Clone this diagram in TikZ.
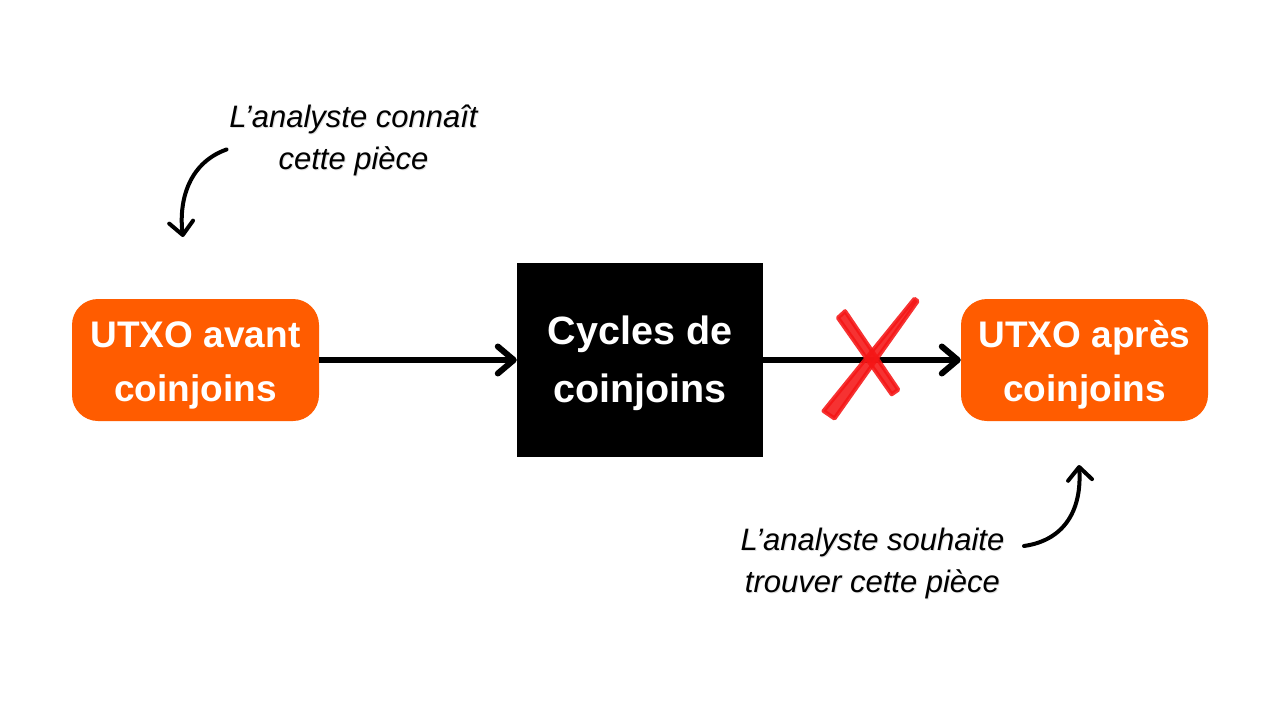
\documentclass[tikz,border=0pt]{standalone}
\usepackage{fontspec}
\setmainfont{Liberation Sans}
\usetikzlibrary{arrows.meta}
\definecolor{orng}{HTML}{FF5C00}
\definecolor{xred}{HTML}{F51616}
\newcommand\boxlines[3]{\begin{tabular}{@{}c@{}}\rule{0pt}{#1}#2\\#3\end{tabular}}
\begin{document}
\begin{tikzpicture}[x=1pt,y=-1pt,
 obox/.style={fill=orng, rounded corners=26pt, minimum width=247pt, minimum height=122pt, text=white, font=\bfseries\fontsize{37}{54}\selectfont, inner sep=0pt},
 bbox/.style={fill=black, minimum width=246pt, minimum height=194pt, text=white, font=\bfseries\fontsize{39.5}{58}\selectfont, inner sep=0pt},
 flow/.style={line width=6pt, -{Straight Barb[length=16pt,width=27pt,round]}},
 note/.style={font=\itshape\fontsize{31}{42}\selectfont, align=center, inner sep=0pt},
 noteshadow/.style={note, text=black, opacity=0.12},
 curvy/.style={line width=4pt, line cap=round, -{Straight Barb[length=13pt,width=24pt,round]}},
 xstroke/.style={fill=xred, draw=xred, line width=4pt, line join=round, opacity=0.88}]

\useasboundingbox[fill=white] (0,0) rectangle (1280,720);

\node[obox] (utxoA) at (195.5,360) {\boxlines{44.2pt}{UTXO avant}{coinjoins}};
\node[bbox] (cyc) at (640,360) {\boxlines{43.9pt}{Cycles de}{coinjoins}};
\node[obox] (utxoB) at (1084.5,360) {\boxlines{44.2pt}{UTXO après}{coinjoins}};

\draw[flow] (utxoA.east) -- (cyc.west);
\draw[flow] (cyc.east) -- (utxoB.west);

% red cross
\path[xstroke] (823.5,411) -- (914.4,298.8) -- (917.6,301.2) -- (834.5,418.5) -- cycle;
\path[xstroke] (837.9,317.8) -- (845.1,311.2) -- (898.3,389.7) -- (891.7,394.3) -- cycle;

% notes
\node[noteshadow] (n1s) at (354.5,141.5) {L’analyste connaît\\cette pièce};
\node[note] (n1) at (353.5,140.5) {L’analyste connaît\\cette pièce};
\node[noteshadow] (n2s) at (873.5,564.5) {L’analyste souhaite\\trouver cette pièce};
\node[note] (n2) at (872.5,563.5) {L’analyste souhaite\\trouver cette pièce};

\coordinate (c1s) at (226.5,149.5);
\coordinate (c1e) at (183,237);
\draw[curvy] (c1s) .. controls (186,164) and (179,205) .. (c1e);

\coordinate (c2s) at (1024,546);
\coordinate (c2e) at (1079,465);
\draw[curvy] (c2s) .. controls (1066,540) and (1082,508) .. (c2e);
\end{tikzpicture}
\end{document}
